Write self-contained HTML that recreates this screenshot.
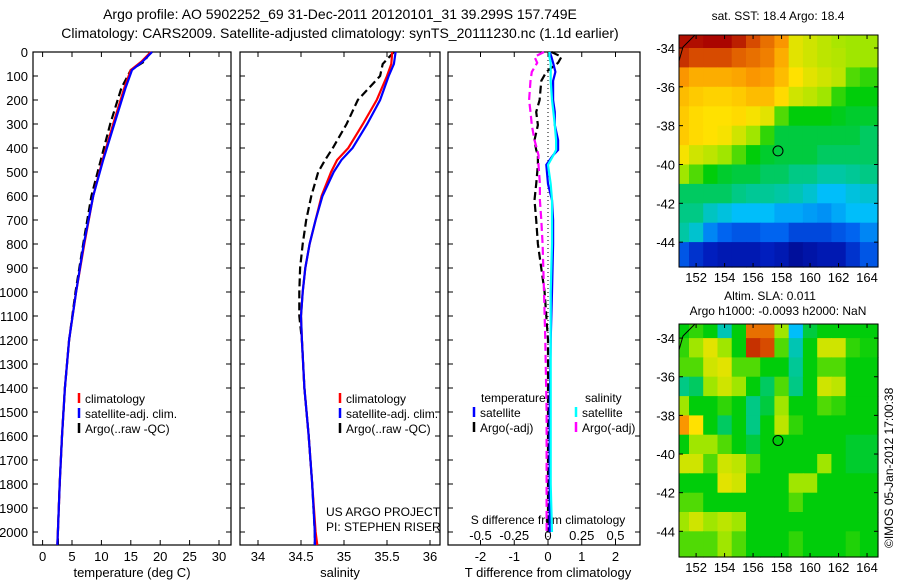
<!DOCTYPE html>
<html><head><meta charset="utf-8"><style>
body{margin:0;background:#fff;}
svg{display:block;font-family:"Liberation Sans",sans-serif;}
text{font-size:13px;fill:#000;}
</style></head><body>
<svg id="s" width="900" height="580" viewBox="0 0 900 580">
<text x="340" y="19" text-anchor="middle" style="font-size:14px">Argo profile: AO 5902252_69 31-Dec-2011 20120101_31 39.299S 157.749E</text>
<text x="340" y="38" text-anchor="middle" style="font-size:14px">Climatology: CARS2009. Satellite-adjusted climatology: synTS_20111230.nc (1.1d earlier)</text>
<text x="778" y="20" text-anchor="middle" style="font-size:12px">sat. SST: 18.4 Argo: 18.4</text>
<text x="770" y="300" text-anchor="middle" style="font-size:12px">Altim. SLA: 0.011</text>
<text x="778" y="315" text-anchor="middle" style="font-size:12px">Argo h1000: -0.0093 h2000: NaN</text>
<text transform="translate(893,548) rotate(-90)" style="font-size:12px">©IMOS 05-Jan-2012 17:00:38</text>
<text x="326" y="516" style="font-size:12px">US ARGO PROJECT</text>
<text x="326" y="531" style="font-size:12px">PI: STEPHEN RISER</text>
</svg>
<script>
// ---- profile data ----
const depthT = [0,40,75,150,300,450,600,800,1000,1200,1400,1600,1800,2000,2054];
const tempClim = [18.4,16.8,15.0,13.9,12.0,10.2,8.6,7.1,5.7,4.5,3.8,3.3,2.9,2.6,2.5];
const tempSat  = [18.6,17.0,15.2,14.1,12.2,10.3,8.6,7.0,5.7,4.5,3.8,3.3,2.9,2.6,2.5];
const tempArgo = [18.3,17.3,15.0,13.4,11.5,9.9,8.3,6.9,5.6,4.5,3.8,3.3,2.9,2.6,2.6];

const depthS = [0,50,100,200,300,400,450,500,600,700,800,900,1000,1100,1200,1400,1600,1800,2000,2054];
const salClim = [35.56,35.55,35.5,35.38,35.22,35.05,34.92,34.85,34.74,34.67,34.6,34.55,34.52,34.5,34.51,34.54,34.59,34.63,34.67,34.69];
const salSat  = [35.6,35.58,35.52,35.42,35.27,35.1,34.97,34.88,34.75,34.67,34.6,34.55,34.52,34.5,34.51,34.54,34.59,34.63,34.66,34.66];
const salArgo = [35.58,35.45,35.42,35.16,35.03,34.87,34.78,34.7,34.62,34.56,34.52,34.49,34.48,34.48,34.51,34.54,34.59,34.63,34.66,34.66];

const depthD = [0,20,45,83,120,200,250,304,367,408,430,470,550,617,700,800,1000,1200,1500,1800,2000];
const dTsat  = [0.05,0.1,0.15,0.22,0.15,0.15,0.2,0.2,0.3,0.3,0.15,-0.05,0.0,0.12,0.15,0.15,0.12,0.08,0.05,0.05,0.05];
const dSsat  = [0.01,0.01,0.02,0.02,0.02,0.03,0.04,0.05,0.06,0.06,0.04,0.0,0.02,0.03,0.03,0.03,0.02,0.02,0.02,0.02,0.03];
const dTargo = [0.1,0.4,0.3,-0.05,-0.2,-0.25,-0.35,-0.3,-0.4,-0.35,-0.3,-0.3,-0.35,-0.4,-0.35,-0.3,-0.1,0.0,0.0,0.0,0.0];
const dSargo = [-0.03,-0.1,-0.08,-0.12,-0.13,-0.14,-0.13,-0.12,-0.1,-0.08,-0.07,-0.07,-0.06,-0.06,-0.05,-0.04,-0.03,-0.02,-0.01,-0.01,-0.01];

const depthTicks = [0,100,200,300,400,500,600,700,800,900,1000,1100,1200,1300,1400,1500,1600,1700,1800,1900,2000];
const tempTicks = [0,5,10,15,20,25,30];
const salTicks = [34,34.5,35,35.5,36];
const tdTicks = [-2,-1,0,1,2];
const sdTicks = [-0.5,-0.25,0,0.25,0.5];
const sdTickLabels = ['-0.5','-0.25','0','0.25','0.5'];

// ---- map data (colormap fraction, 1-degree cells, rows north->south) ----
const mapLons = [151,152,153,154,155,156,157,158,159,160,161,162,163,164];
const mapLats = [-33.5,-34.5,-35.5,-36.5,-37.5,-38.5,-39.5,-40.5,-41.5,-42.5,-43.5,-44.5];
const sstGrid = [
[.92,.92,.93,.93,.9,.85,.8,.75,.62,.6,.58,.56,.55,.55],
[.88,.85,.85,.85,.82,.8,.78,.72,.62,.6,.58,.57,.55,.55],
[.75,.72,.72,.72,.73,.75,.74,.70,.65,.62,.6,.58,.5,.48],
[.70,.68,.67,.67,.68,.70,.70,.66,.60,.58,.55,.48,.45,.45],
[.68,.66,.65,.65,.66,.64,.62,.5,.45,.45,.45,.44,.43,.43],
[.68,.66,.65,.64,.6,.55,.48,.42,.42,.42,.42,.42,.42,.4],
[.64,.6,.58,.55,.5,.45,.43,.42,.42,.42,.40,.40,.40,.40],
[.55,.5,.45,.43,.42,.42,.4,.4,.38,.38,.36,.36,.37,.38],
[.4,.4,.4,.4,.38,.37,.37,.36,.35,.33,.3,.3,.32,.33],
[.38,.38,.34,.32,.3,.3,.3,.28,.28,.27,.26,.28,.3,.3],
[.36,.33,.25,.22,.2,.2,.22,.22,.18,.18,.18,.2,.22,.25],
[.2,.15,.12,.1,.1,.1,.12,.1,.06,.08,.1,.1,.15,.2]];
const slaGrid = [
[.45,.48,.45,.35,.45,.8,.8,.55,.3,.42,.45,.45,.45,.45],
[.48,.55,.62,.55,.45,.88,.85,.5,.35,.45,.6,.6,.48,.46],
[.5,.5,.6,.62,.5,.5,.45,.45,.37,.45,.5,.5,.45,.45],
[.38,.4,.55,.6,.55,.45,.4,.5,.38,.45,.6,.58,.45,.45],
[.55,.45,.45,.48,.45,.38,.42,.55,.45,.45,.5,.48,.45,.45],
[.75,.65,.45,.4,.45,.38,.45,.58,.48,.45,.45,.45,.45,.45],
[.45,.55,.55,.5,.45,.42,.45,.45,.45,.45,.45,.45,.43,.43],
[.6,.6,.5,.6,.58,.5,.45,.45,.45,.45,.55,.45,.43,.43],
[.45,.45,.45,.62,.6,.45,.45,.45,.55,.55,.45,.45,.45,.45],
[.5,.5,.45,.45,.45,.45,.45,.45,.5,.45,.45,.45,.45,.45],
[.55,.6,.55,.58,.55,.45,.45,.45,.45,.45,.45,.45,.45,.45],
[.5,.5,.5,.55,.5,.45,.45,.45,.48,.45,.45,.45,.47,.45]];
const mapXTicks = [152,154,156,158,160,162,164];
const mapYTicks = [-34,-36,-38,-40,-42,-44];
const argoLon = 157.749, argoLat = -39.299;

const svg = document.getElementById('s');
const NS = 'http://www.w3.org/2000/svg';
function mk(tag, attrs, parent){const e=document.createElementNS(NS,tag);for(const k in attrs)e.setAttribute(k,attrs[k]);(parent||svg).appendChild(e);return e;}
function txt(x,y,s,anchor,size){const t=mk('text',{x:x,y:y,'text-anchor':anchor||'middle'});if(size)t.style.fontSize=size+'px';t.textContent=s;return t;}

const TOP=52, BOT=545;
const yD = d => TOP + d*0.24;

function panel(x0,x1,name){
  const r=mk('rect',{x:x0,y:TOP,width:x1-x0,height:BOT-TOP,fill:'none',stroke:'#000','stroke-width':1.2});
  
  
  for(const d of depthTicks){
    mk('line',{x1:x0,x2:x0+5,y1:yD(d),y2:yD(d),stroke:'#000'});
    mk('line',{x1:x1,x2:x1-5,y1:yD(d),y2:yD(d),stroke:'#000'});
  }
}
function line(xs,ds,fx,color,dash,name,w){
  const pts=xs.map((v,i)=>fx(v).toFixed(1)+','+yD(ds[i]).toFixed(1)).join(' ');
  const p=mk('polyline',{points:pts,fill:'none',stroke:color,'stroke-width':w||2.2});
  if(dash)p.setAttribute('stroke-dasharray',dash);
  
  
}
function xticks(vals,labels,fx){
  vals.forEach((v,i)=>{const x=fx(v);
    mk('line',{x1:x,x2:x,y1:BOT,y2:BOT-5,stroke:'#000'});
    mk('line',{x1:x,x2:x,y1:TOP,y2:TOP+5,stroke:'#000'});
    const t=txt(x,561,labels[i]);
    
    
  });
}
function legend(x,y,color,label,name){
  mk('line',{x1:x,x2:x,y1:y-10,y2:y,stroke:color,'stroke-width':2.5});
  const t=txt(x+6,y,label,'start',12);
  
  
}

// Panel 1: temperature
const fT = t => 42.6 + t*5.88;
panel(33,231,'temperature-panel');
depthTicks.forEach(d=>{const t=txt(28,yD(d)+5,String(d),'end');
  
  });
xticks(tempTicks,tempTicks.map(String),fT);
line(tempArgo,depthT,fT,'#000','8,4','temp-argo-line');
line(tempClim,depthT,fT,'#f00',null,'temp-clim-line');
line(tempSat,depthT,fT,'#00f',null,'temp-sat-line');
const xl1=txt(132,577,'temperature (deg C)');


legend(79,403,'#f00','climatology','temp-legend-clim');
legend(79,418,'#00f','satellite-adj. clim.','temp-legend-sat');
legend(79,433,'#000','Argo(..raw -QC)','temp-legend-argo');

// Panel 2: salinity
const fS = s => 258 + (s-34)*86;
panel(240,440,'salinity-panel');
xticks(salTicks,salTicks.map(String),fS);
line(salArgo,depthS,fS,'#000','8,4','sal-argo-line');
line(salClim,depthS,fS,'#f00',null,'sal-clim-line');
line(salSat,depthS,fS,'#00f',null,'sal-sat-line');
const xl2=txt(340,577,'salinity');


legend(340,403,'#f00','climatology','sal-legend-clim');
legend(340,418,'#00f','satellite-adj. clim.','sal-legend-sat');
legend(340,433,'#000','Argo(..raw -QC)','sal-legend-argo');

// Panel 3: differences
const fTd = v => 548 + v*33.75;
const fSd = v => 548 + v*135;
panel(448,640,'difference-panel');
mk('line',{x1:548,x2:548,y1:TOP,y2:BOT,stroke:'#000','stroke-dasharray':'1,3'});
xticks(tdTicks,tdTicks.map(String),fTd);
sdTicks.forEach((v,i)=>{const t=txt(fSd(v),540,sdTickLabels[i]);
  
  });
const sdt=txt(548,524,'S difference from climatology',null,12);


line(dTargo,depthD,fTd,'#000','8,4','tdiff-argo-line');
line(dSargo,depthD,fSd,'#f0f','8,4','sdiff-argo-line');
line(dTsat,depthD,fTd,'#00f',null,'tdiff-sat-line');
line(dSsat,depthD,fSd,'#0ff',null,'sdiff-sat-line');
const xl3=txt(548,577,'T difference from climatology');


const lt=txt(481,402,'temperature','start',12);


const ls=txt(585,402,'salinity','start',12);


legend(474,417,'#00f','satellite','diff-legend-tsat');
legend(474,432,'#000','Argo(-adj)','diff-legend-targo');
legend(576,417,'#0ff','satellite','diff-legend-ssat');
legend(576,432,'#f0f','Argo(-adj)','diff-legend-sargo');

// ---- maps ----
const cmapStops=[[0,[0,0,120]],[0.12,[0,30,190]],[0.22,[0,100,240]],[0.3,[0,190,250]],[0.37,[0,200,150]],[0.45,[0,205,10]],[0.55,[160,230,0]],[0.65,[255,225,0]],[0.75,[250,150,0]],[0.85,[215,75,0]],[0.93,[170,5,0]],[1,[130,0,0]]];
function cmap(v){
  v=Math.max(0,Math.min(1,v));
  for(let i=1;i<cmapStops.length;i++){
    const [a,ca]=cmapStops[i-1],[b,cb]=cmapStops[i];
    if(v<=b){const f=(v-a)/(b-a);
      return 'rgb('+ca.map((c,k)=>Math.round(c+(cb[k]-c)*f)).join(',')+')';}
  }
  return 'rgb(130,0,0)';
}
function drawMap(grid,box,name){
  const {x0,x1,y0,y1,lon0,lon1,lat0,lat1}=box;
  const fx=lon=>x0+(lon-lon0)/(lon1-lon0)*(x1-x0);
  const fy=lat=>y0+(lat0-lat)/(lat0-lat1)*(y1-y0);
  const g=mk('g',{});
  
  
  mapLats.forEach((lat,i)=>mapLons.forEach((lon,j)=>{
    let xa=Math.max(x0,fx(lon-0.5)),xb=Math.min(x1,fx(lon+0.5));
    let ya=Math.max(y0,fy(lat+0.5)),yb=Math.min(y1,fy(lat-0.5));
    if(i===0)ya=y0; if(i===mapLats.length-1)yb=y1;
    if(j===0)xa=x0; if(j===mapLons.length-1)xb=x1;
    const c=mk('rect',{x:xa.toFixed(1),y:ya.toFixed(1),width:(xb-xa+0.6).toFixed(1),height:(yb-ya+0.6).toFixed(1),fill:cmap(grid[i][j])},g);
    
    
  }));
  mk('polyline',{points:x0+','+(y0+26)+' '+(x0+4)+','+(y0+12)+' '+(x0+16)+','+y0,fill:'none',stroke:'#000'},g);
  mk('rect',{x:x0,y:y0,width:x1-x0,height:y1-y0,fill:'none',stroke:'#000'});
  mapXTicks.forEach(v=>{const x=fx(v);
    mk('line',{x1:x,x2:x,y1:y1,y2:y1-4,stroke:'#000'});
    mk('line',{x1:x,x2:x,y1:y0,y2:y0+4,stroke:'#000'});
    const t=txt(x,y1+15,String(v));
    
    });
  mapYTicks.forEach(v=>{const y=fy(v);
    mk('line',{x1:x0,x2:x0+4,y1:y,y2:y,stroke:'#000'});
    mk('line',{x1:x1,x2:x1-4,y1:y,y2:y,stroke:'#000'});
    const t=txt(x0-4,y+5,String(v),'end');
    
    });
  const c=mk('circle',{cx:fx(argoLon),cy:fy(argoLat),r:5,fill:'none',stroke:'#000'});
  
  
}
drawMap(sstGrid,{x0:679,x1:878,y0:35,y1:267,lon0:150.8,lon1:164.77,lat0:-33.33,lat1:-45.28},'sst-map');
drawMap(slaGrid,{x0:679,x1:878,y0:324,y1:557,lon0:150.8,lon1:164.77,lat0:-33.27,lat1:-45.33},'sla-map');
</script>
</body></html>
